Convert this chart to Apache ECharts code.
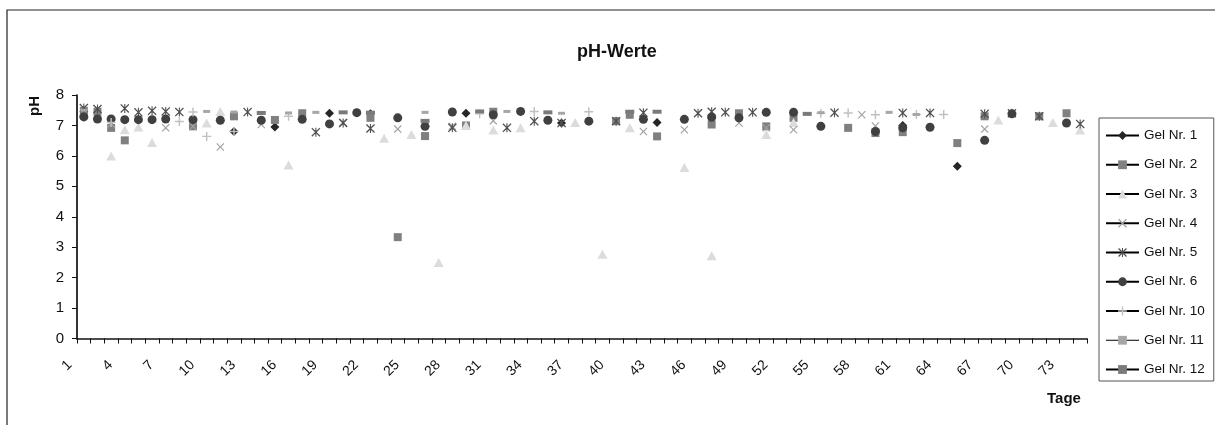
<!DOCTYPE html>
<html>
<head>
<meta charset="utf-8">
<script src="https://cdn.jsdelivr.net/npm/echarts@6/dist/echarts.min.js"></script>
<style>
  html, body { margin: 0; padding: 0; background: #fff; }
  #chart { width: 1215px; height: 425px; }
</style>
</head>
<body>
<div id="chart"></div>
<script>
// days 1..74 on the category axis
const days = Array.from({ length: 74 }, (_, i) => String(i + 1));
const yTicks = [0, 1, 2, 3, 4, 5, 6, 7, 8];

// [day, pH] pairs
const gel1 = [[1, 7.3], [12, 6.8], [15, 6.95], [19, 7.4], [22, 7.38], [29, 7.4], [36, 7.08], [43, 7.1], [61, 7.0], [65, 5.66]];
const gel2 = [[1, 7.48], [2, 7.45], [3, 6.92], [4, 6.51], [9, 6.97], [12, 7.3], [15, 7.18], [17, 7.4], [22, 7.25], [24, 3.33],
  [26, 6.65], [29, 7.0], [31, 7.45], [40, 7.14], [41, 7.35], [43, 6.64], [47, 7.03], [49, 7.4], [51, 6.97], [53, 7.25],
  [57, 6.92], [59, 6.75], [61, 6.78], [65, 6.42], [67, 7.3], [71, 7.3], [73, 7.4]];
const gel3 = [[3, 6.0], [4, 6.86], [5, 6.95], [6, 6.44], [10, 7.08], [11, 7.46], [16, 5.7], [23, 6.58], [25, 6.7], [27, 2.5],
  [29, 7.0], [31, 6.85], [33, 6.92], [37, 7.1], [39, 2.77], [41, 6.92], [45, 5.62], [47, 2.72], [51, 6.7], [53, 7.1],
  [68, 7.18], [72, 7.1], [74, 6.85]];
const gel4 = [[3, 7.05], [7, 6.92], [9, 6.97], [11, 6.29], [14, 7.03], [20, 7.1], [24, 6.88], [28, 6.97], [31, 7.15], [40, 7.14],
  [42, 6.8], [45, 6.86], [49, 7.08], [51, 6.92], [53, 6.86], [58, 7.35], [59, 6.98], [67, 6.88]];
const gel5 = [[1, 7.57], [2, 7.54], [4, 7.56], [5, 7.43], [6, 7.48], [7, 7.46], [8, 7.44], [13, 7.44], [18, 6.78], [20, 7.08],
  [22, 6.9], [28, 6.92], [32, 6.92], [34, 7.14], [36, 7.08], [40, 7.14], [42, 7.42], [46, 7.4], [47, 7.45], [48, 7.43],
  [50, 7.43], [56, 7.42], [61, 7.41], [63, 7.41], [67, 7.38], [69, 7.4], [71, 7.3], [74, 7.05]];
const gel6 = [[1, 7.28], [2, 7.21], [3, 7.21], [4, 7.19], [5, 7.19], [6, 7.19], [7, 7.21], [9, 7.19], [11, 7.17], [14, 7.17],
  [17, 7.2], [19, 7.05], [21, 7.42], [24, 7.25], [26, 6.97], [28, 7.44], [31, 7.35], [33, 7.46], [35, 7.17], [38, 7.14],
  [42, 7.2], [45, 7.2], [47, 7.27], [49, 7.25], [51, 7.43], [53, 7.43], [55, 6.97], [59, 6.8], [61, 6.92], [63, 6.94],
  [67, 6.51], [69, 7.38], [73, 7.08]];
const gel10 = [[3, 7.1], [8, 7.13], [9, 7.44], [10, 6.64], [12, 6.8], [16, 7.3], [30, 7.38], [34, 7.46], [38, 7.45], [55, 7.4],
  [57, 7.41], [59, 7.35], [62, 7.36], [64, 7.36]];
const gel11 = [[1, 7.5], [10, 7.46], [12, 7.44], [16, 7.41], [18, 7.43], [26, 7.43], [32, 7.46], [36, 7.4], [55, 7.42], [60, 7.43], [62, 7.36]];
const gel12 = [[14, 7.41], [20, 7.43], [22, 7.42], [26, 7.15], [30, 7.46], [35, 7.43], [41, 7.45], [43, 7.45], [54, 7.38]];

const FONT = '"Liberation Sans", Arial, sans-serif';
const xMark = 'path://M0,1L1,0L5,4L9,0L10,1L6,5L10,9L9,10L5,6L1,10L0,9L4,5Z';
const starMark = 'path://M0,1L1,0L5,4L9,0L10,1L6,5L10,9L9,10L5,6L1,10L0,9L4,5Z M4.4,0h1.2v10h-1.2z';
const plusMark = 'path://M4.2,0h1.6v4.2h4.2v1.6h-4.2v4.2h-1.6v-4.2h-4.2v-1.6h4.2z';

function mk(name, data, symbol, size, color) {
    return {
        name: name,
        type: 'line',
        data: data.map(p => [p[0] - 1, p[1]]),
        symbol: symbol,
        symbolSize: size,
        showAllSymbol: true,
        connectNulls: false,
        itemStyle: { color: color },
        lineStyle: { opacity: 0 },
        emphasis: { disabled: true },
        animation: false
    };
}

let chart = echarts.init(document.getElementById('chart'));
let option = {
    animation: false,
    textStyle: { fontFamily: FONT },
    graphic: [
        {
            type: 'rect',
            shape: { x: 7, y: 10, width: 1400, height: 600 },
            style: { fill: 'none', stroke: '#222', lineWidth: 1.2 },
            silent: true
        },
        {
            type: 'text', left: 617 - 40, top: 43,
            style: { text: 'pH-Werte', font: 'bold 18px ' + FONT, fill: '#111' }
        },
        {
            type: 'text', x: 27, y: 116, rotation: Math.PI / 2,
            style: { text: 'pH', font: 'bold 15px ' + FONT, fill: '#111' }
        },
        {
            type: 'text', left: 1047, top: 391,
            style: { text: 'Tage', font: 'bold 15px ' + FONT, fill: '#111' }
        }
    ],
    grid: {
        left: 77,
        right: 128,
        top: 95,
        bottom: 86.5,
        show: false
    },
    legend: {
        orient: 'vertical',
        left: 1099,
        top: 118,
        padding: [10, 9, 4, 6],
        itemWidth: 33,
        itemHeight: 11,
        itemGap: 14.25,
        borderColor: '#555',
        borderWidth: 1,
        textStyle: { fontSize: 13.5, color: '#111', lineHeight: 15, fontFamily: FONT },
        lineStyle: { color: '#000', width: 2, opacity: 1 },
        data: ['Gel Nr. 1', 'Gel Nr. 2', 'Gel Nr. 3', 'Gel Nr. 4', 'Gel Nr. 5', 'Gel Nr. 6', 'Gel Nr. 10',
            { name: 'Gel Nr. 11', lineStyle: { width: 1 } }, 'Gel Nr. 12']
    },
    xAxis: {
        type: 'category',
        data: days,
        boundaryGap: true,
        axisLine: { show: true, lineStyle: { color: '#111', width: 1.7 } },
        axisTick: { show: true, interval: 0, length: 5, lineStyle: { color: '#111' } },
        axisLabel: {
            interval: 2,
            rotate: 45,
            margin: 10,
            padding: [0, 20, 0, 0],
            fontSize: 14,
            color: '#111',
            fontFamily: FONT
        },
        splitLine: { show: false }
    },
    yAxis: {
        type: 'value',
        min: yTicks[0],
        max: yTicks[yTicks.length - 1],
        interval: 1,
        axisLine: { show: true, lineStyle: { color: '#111', width: 1.7 } },
        axisTick: { show: true, length: 5, lineStyle: { color: '#111' } },
        axisLabel: { fontSize: 15, color: '#111', margin: 13, fontFamily: FONT },
        splitLine: { show: false }
    },
    series: [
        mk('Gel Nr. 1', gel1, 'diamond', 9, '#262626'),
        mk('Gel Nr. 2', gel2, 'rect', 8, '#808080'),
        mk('Gel Nr. 3', gel3, 'triangle', [10, 9], '#dcdcdc'),
        mk('Gel Nr. 4', gel4, xMark, 8, '#a0a0a0'),
        mk('Gel Nr. 5', gel5, starMark, 9, '#505050'),
        mk('Gel Nr. 6', gel6, 'circle', 9, '#404040'),
        mk('Gel Nr. 10', gel10, plusMark, 9, '#c0c0c0'),
        mk('Gel Nr. 11', gel11, 'rect', [7, 3], '#a6a6a6'),
        mk('Gel Nr. 12', gel12, 'rect', [9, 4], '#7a7a7a')
    ]
};
chart.setOption(option);
</script>
</body>
</html>
